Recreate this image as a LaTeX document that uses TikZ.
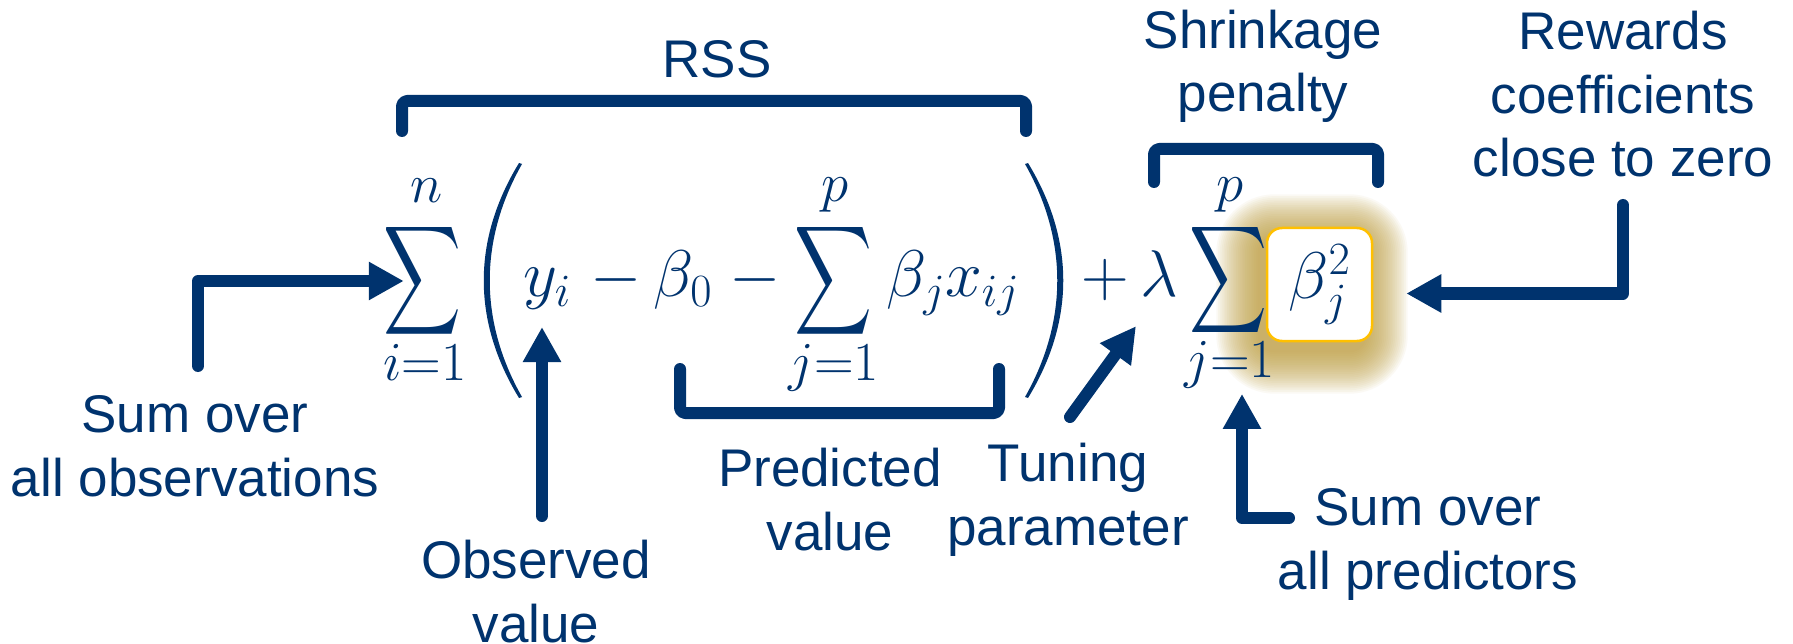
\documentclass[tikz,border=0pt]{standalone}
\usepackage{fix-cm}
\usepackage{graphicx}
\usepackage[no-math]{fontspec}
\setmainfont{Liberation Sans}
\usetikzlibrary{arrows.meta,calc}
\definecolor{navy}{RGB}{0,51,110}
\definecolor{boxyel}{RGB}{255,192,0}
\definecolor{glowc}{RGB}{191,158,60}
\tikzset{
  lbl/.style={text=navy, align=center, inner sep=0pt, font=\fontsize{53}{63.5}\selectfont, anchor=base},
  mth/.style={text=navy, inner sep=0pt, anchor=base, font=\fontsize{66}{72}\selectfont},
  lim/.style={text=navy, inner sep=0pt, anchor=base, font=\fontsize{55}{60}\selectfont},
  bigsum/.style={text=navy, inner sep=0pt},
  brk/.style={draw=navy, line width=12pt, line cap=round, line join=round, rounded corners=5pt},
  arr/.style={draw=navy, line width=12pt, line cap=round, line join=round, -{Triangle[length=35pt,width=36pt]}},
  sqbox/.style={draw=boxyel, line width=2.5pt, fill=white, rounded corners=15pt, minimum width=105pt, minimum height=113pt, inner sep=0pt, text=navy, font=\fontsize{66}{72}\selectfont},
}
\begin{document}
\begin{tikzpicture}[x=1pt,y=-1pt]
\fill[white] (0,0) rectangle (1793,644);
\useasboundingbox (0,0) rectangle (1793,644);

% glow behind the squared coefficient
\foreach \k in {1,...,24}{
  \pgfmathsetmacro\e{1.8*\k}
  \pgfmathsetmacro\r{15+\e}
  \fill[glowc, opacity=0.055, rounded corners=\r pt] (1259.5-\e,237.5-\e) rectangle (1364.5+\e,350.5+\e);
}

% labels (anchor = baseline of the last line)
\node[lbl] (rss) at (717,78) {RSS};
\node[lbl] (shrink) at (1263,112) {Shrinkage\\penalty};
\node[lbl] (reward) at (1623,177) {Rewards\\coefficients\\close to zero};
\node[lbl] (sumobs) at (195,496) {Sum over\\all observations};
\node[lbl] (obsval) at (536,642) {Observed\\value};
\node[lbl] (predval) at (830,550) {Predicted\\value};
\node[lbl] (tune) at (1068,545) {Tuning\\parameter};
\node[lbl] (sumpred) at (1428,589) {Sum over\\all predictors};

% formula
\node[bigsum] (sum1) at (423,281) {\resizebox*{78pt}{122pt}{$\displaystyle\sum$}};
\node[lim] (lim1a) at (427,203) {$n$};
\node[lim] (lim1b) at (425,380) {$i{=}1$};
\fill[navy] (519,163) .. controls (472,240) and (472,321) .. (519,398) -- (522,397) .. controls (479,321) and (479,240) .. (522,164) -- cycle;
\node[mth] (yi) at (547,297) {$y_i$};
\node[mth] (m1) at (616,297) {$-$};
\node[mth] (b0) at (683,297) {$\beta_0$};
\node[mth] (m2) at (755,297) {$-$};
\node[bigsum] (sum2) at (833.5,281) {\resizebox*{78pt}{122pt}{$\displaystyle\sum$}};
\node[lim] (lim2a) at (835,202) {$p$};
\node[lim] (lim2b) at (834,380) {$j{=}1$};
\node[mth] (bx) at (953,297) {$\beta_j x_{ij}$};
\fill[navy] (1028,163) .. controls (1075,240) and (1075,321) .. (1028,398) -- (1025,397) .. controls (1068,321) and (1068,240) .. (1025,164) -- cycle;
\node[mth] (plus) at (1105.5,297) {$+$};
\node[mth] (lam) at (1159,297) {$\lambda$};
\node[bigsum] (sum3) at (1228.5,280.5) {\resizebox*{78pt}{120pt}{$\displaystyle\sum$}};
\node[lim] (lim3a) at (1230,202) {$p$};
\node[lim] (lim3b) at (1230,377) {$j{=}1$};
\node[sqbox] (b2) at (1319.5,284.5) {$\beta_j^2$};

% brackets
\draw[brk] (402,131) -- (402,101) -- (1026,101) -- (1026,131);
\draw[brk] (1154,182) -- (1154,149) -- (1378,149) -- (1378,182);
\draw[brk] (680,369) -- (680,413) -- (999,413) -- (999,369);

% arrows
\coordinate (s1) at (198,366);
\coordinate (s2) at (542,516);
\coordinate (s4) at (1070,417);
\coordinate (s5) at (1289,518);
\coordinate (s6) at (1623,205);
\draw[arr] (s1) |- ([xshift=20pt]sum1.west);
\draw[arr, shorten >=17pt] (s2) -- (s2 |- yi.south);
\draw[arr] (s4) -- ([xshift=-4pt,yshift=-29pt]lam.south west);
\draw[arr, shorten >=6pt] (s5) -| ([xshift=12pt]lim3b.south);
\draw[arr, shorten >=33pt] (s6) |- ([yshift=-9pt]b2.east);
\end{tikzpicture}
\end{document}
